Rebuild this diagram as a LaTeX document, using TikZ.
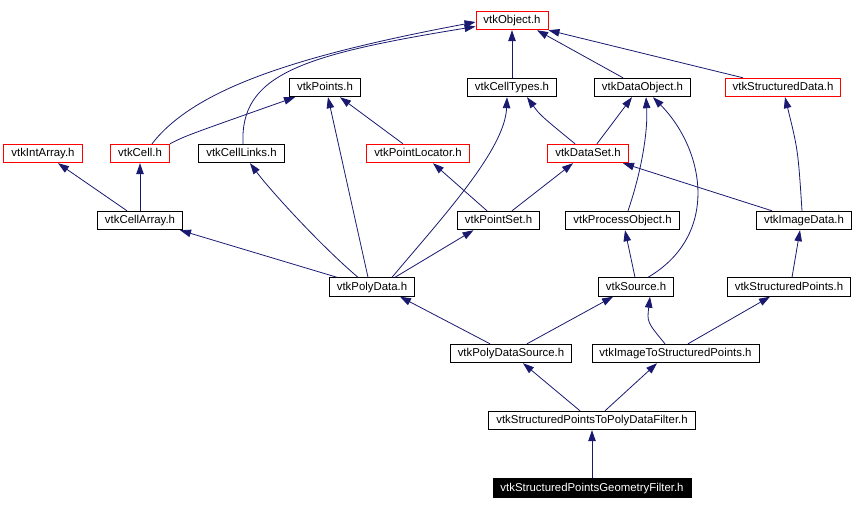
\documentclass[tikz,border=0pt]{standalone}
\usepackage{fontspec}
\setmainfont{Liberation Sans}
\usetikzlibrary{arrows.meta}
\definecolor{vtkEdge}{HTML}{191970}
\definecolor{vtkRed}{HTML}{FF0000}
\tikzset{
  hdrnode/.style={
    draw, line width=0.9pt, inner xsep=7.5pt, inner ysep=0pt,
    minimum height=18.5pt, text height=8.6pt, text depth=2.4pt,
    font=\fontsize{11.4}{13}\selectfont, fill=white
  },
  hdrbox/.style={hdrnode, draw=black},
  hdrred/.style={hdrnode, draw=vtkRed},
  hdrfocus/.style={hdrnode, fill=black, draw=black, text=white},
  incl/.style={-{Triangle[length=11pt,width=7.5pt]}, line width=0.8pt, vtkEdge}
}
\begin{document}
\begin{tikzpicture}[x=1pt, y=-1pt]
  \useasboundingbox (0,0) rectangle (856,509);
  % headers
  \node[hdrred] (obj) at (512,20.5) {vtkObject.h};
  \node[hdrbox] (points) at (325,87.5) {vtkPoints.h};
  \node[hdrbox] (celltypes) at (512,87.5) {vtkCellTypes.h};
  \node[hdrbox] (dataobj) at (642.5,87.5) {vtkDataObject.h};
  \node[hdrred] (strdata) at (783,87.5) {vtkStructuredData.h};
  \node[hdrred] (intarray) at (43,153.5) {vtkIntArray.h};
  \node[hdrred] (cell) at (140,153.5) {vtkCell.h};
  \node[hdrbox] (celllinks) at (241.5,153.5) {vtkCellLinks.h};
  \node[hdrred] (ptlocator) at (418,153.5) {vtkPointLocator.h};
  \node[hdrred] (dataset) at (588,153.5) {vtkDataSet.h};
  \node[hdrbox] (cellarray) at (140,220.5) {vtkCellArray.h};
  \node[hdrbox] (pointset) at (498.5,220.5) {vtkPointSet.h};
  \node[hdrbox] (procobj) at (622.5,220.5) {vtkProcessObject.h};
  \node[hdrbox] (imgdata) at (804,220.5) {vtkImageData.h};
  \node[hdrbox] (polydata) at (372,287) {vtkPolyData.h};
  \node[hdrbox] (source) at (636,287) {vtkSource.h};
  \node[hdrbox] (strpoints) at (789,287) {vtkStructuredPoints.h};
  \node[hdrbox] (pdsource) at (511,353.5) {vtkPolyDataSource.h};
  \node[hdrbox] (img2sp) at (675.5,353.5) {vtkImageToStructuredPoints.h};
  \node[hdrbox] (sp2pd) at (592,420.5) {vtkStructuredPointsToPolyDataFilter.h};
  \node[hdrfocus] (spgeom) at (592,488) {vtkStructuredPointsGeometryFilter.h};

  % includes
  \draw[incl] ([xshift=12pt]cell.north) .. controls (195,88) and (300,55) .. ([yshift=-1.5pt]obj.west);
  \draw[incl] ([xshift=1.5pt]celllinks.north) .. controls (240,75) and (300,55) .. ([yshift=-6pt]obj.west);
  \draw[incl] (celltypes.north) -- (obj.south);
  \draw[incl] ([xshift=-19.5pt]dataobj.north) -- ([xshift=25pt]obj.south);
  \draw[incl] ([xshift=-40pt]strdata.north) -- (obj.south east);
  \draw[incl] ([xshift=30pt]cell.north) .. controls (185,136) .. ([xshift=-30pt]points.south);
  \draw[incl] ([xshift=-15pt]ptlocator.north) -- ([xshift=15pt]points.south);
  \draw[incl] ([xshift=-4pt]polydata.north) -- ([xshift=3pt]points.south);
  \draw[incl] ([xshift=-13pt]cellarray.north) -- ([xshift=15pt]intarray.south);
  \draw[incl] (cellarray.north) -- (cell.south);
  \draw[incl] ([xshift=-35pt]polydata.north) -- ([xshift=40pt]cellarray.south);
  \draw[incl] ([xshift=-14pt]polydata.north) .. controls (320,245) and (270,190) .. ([xshift=8.5pt]celllinks.south);
  \draw[incl] ([xshift=20pt]polydata.north) .. controls (440,220) and (505,150) .. ([xshift=-5pt]celltypes.south);
  \draw[incl] ([xshift=23pt]polydata.north) -- ([xshift=-25pt]pointset.south);
  \draw[incl] ([xshift=-11.5pt]pointset.north) -- ([xshift=15pt]ptlocator.south);
  \draw[incl] ([xshift=13.5pt]pointset.north) -- ([xshift=-15pt]dataset.south);
  \draw[incl] ([xshift=-13pt]dataset.north) .. controls (540,115) .. ([xshift=15pt]celltypes.south);
  \draw[incl] ([xshift=9pt]dataset.north) -- ([xshift=-10.5pt]dataobj.south);
  \draw[incl] ([xshift=5.5pt]procobj.north) .. controls (642,170) and (648,130) .. ([xshift=3.5pt]dataobj.south);
  \draw[incl] ([xshift=12pt]source.north) .. controls (720,235) and (705,150) .. ([xshift=10.5pt]dataobj.south);
  \draw[incl] ([xshift=-32pt]imgdata.north) -- ([xshift=35pt]dataset.south);
  \draw[incl] ([xshift=-2pt]imgdata.north) .. controls (798,150) .. ([xshift=2pt]strdata.south);
  \draw[incl] ([xshift=-1pt]source.north) -- ([xshift=2.5pt]procobj.south);
  \draw[incl] ([xshift=3pt]strpoints.north) -- ([xshift=-4pt]imgdata.south);
  \draw[incl] ([xshift=-21pt]pdsource.north) -- ([xshift=28pt]polydata.south);
  \draw[incl] ([xshift=16pt]pdsource.north) -- ([xshift=-23pt]source.south);
  \draw[incl] ([xshift=-10.5pt]img2sp.north) .. controls (647,322) .. ([xshift=14pt]source.south);
  \draw[incl] ([xshift=12.5pt]img2sp.north) -- ([xshift=-19pt]strpoints.south);
  \draw[incl] ([xshift=-12pt]sp2pd.north) -- ([xshift=12pt]pdsource.south);
  \draw[incl] ([xshift=13pt]sp2pd.north) -- ([xshift=-18.5pt]img2sp.south);
  \draw[incl] (spgeom.north) -- (sp2pd.south);
\end{tikzpicture}
\end{document}
